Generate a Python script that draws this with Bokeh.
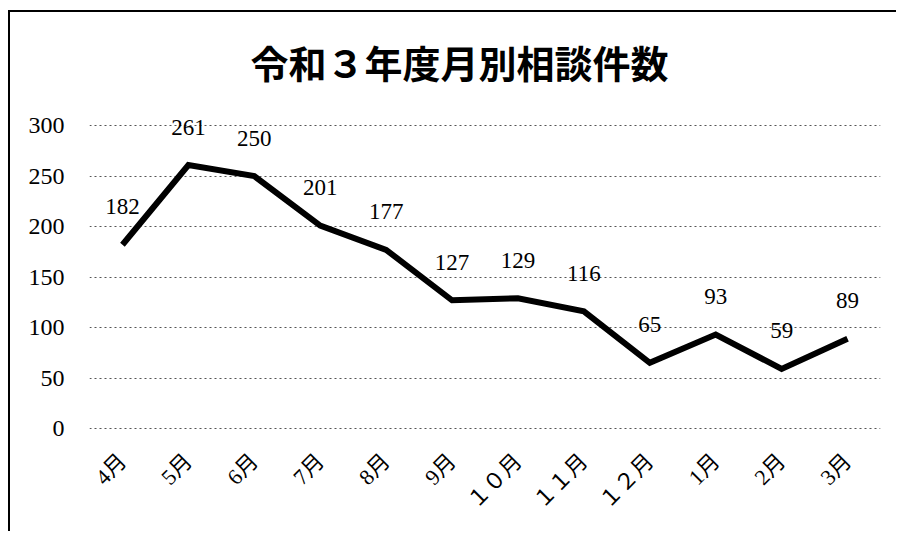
import math
from bokeh.plotting import figure
from bokeh.models import Range1d, FactorRange, Title, ColumnDataSource, FixedTicker, LabelSet
from bokeh.embed import file_html
from bokeh.resources import INLINE

months = ["4月", "5月", "6月", "7月", "8月", "9月", "１０月", "１１月", "１２月", "1月", "2月", "3月"]
counts = [182, 261, 250, 201, 177, 127, 129, 116, 65, 93, 59, 89]
y_ticks = [0, 50, 100, 150, 200, 250, 300]
title_text = "令和３年度月別相談件数"

src = ColumnDataSource(dict(m=months, c=counts, t=[str(v) for v in counts]))

p = figure(width=888, height=521, output_backend="svg", toolbar_location=None,
           x_range=FactorRange(*months, range_padding=0), y_range=Range1d(-2, 320),
           min_border_left=79, min_border_right=18, min_border_top=93, min_border_bottom=103)
p.title = None
p.add_layout(Title(text=title_text, text_font="Noto Sans CJK JP", text_font_size="38px",
                   text_font_style="bold", align="left", standoff=34, offset=161,
                   text_color="black"), "above")

p.outline_line_color = None
p.background_fill_color = "white"
p.border_fill_color = "white"
p.styles = {"border-left": "2px solid black", "border-top": "2px solid black",
            "margin-left": "8px", "margin-top": "10px"}

p.xgrid.grid_line_color = None
p.ygrid.grid_line_color = "#555555"
p.ygrid.grid_line_dash = "2 3"
p.ygrid.grid_line_width = 1
p.yaxis.ticker = FixedTicker(ticks=y_ticks)

for ax in (p.xaxis[0], p.yaxis[0]):
    ax.axis_line_color = None
    ax.major_tick_line_color = None
    ax.minor_tick_line_color = None
    ax.major_label_text_color = "black"

p.yaxis.major_label_text_font = "Liberation Serif"
p.yaxis.major_label_text_font_size = "24px"
p.yaxis.major_label_standoff = 19

p.xaxis.major_label_text_font = "Liberation Serif, Noto Sans CJK JP"
p.xaxis.major_label_text_font_size = "22px"
p.xaxis.major_label_orientation = math.pi / 4
p.xaxis.major_label_standoff = 21

p.line("m", "c", source=src, line_color="black", line_width=6, line_join="miter")
labels = LabelSet(x="m", y="c", text="t", source=src, y_offset=38, text_align="center",
                  text_baseline="middle", text_font="Liberation Serif", text_font_size="23px",
                  text_color="black")
p.add_layout(labels)

open("out.html", "w").write(file_html(p, INLINE))
